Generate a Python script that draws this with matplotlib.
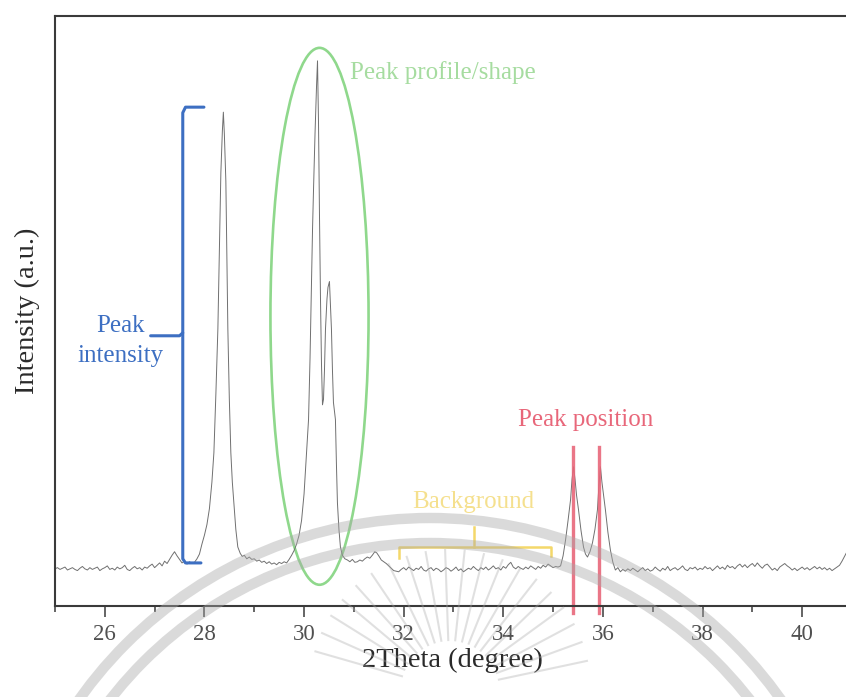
import numpy as np
import matplotlib.pyplot as plt
from matplotlib.patches import Ellipse, Arc
from matplotlib.ticker import MultipleLocator

plt.rcParams['font.family'] = ['Liberation Serif', 'DejaVu Serif']

step = 0.05

# flat background before the first peak (25.00 - 27.35)
bg_a_start = 25.0
bg_a = [6.3, 6.5, 6.2, 6.4, 6.6, 6.1, 6.3, 6.5, 6.2, 6.0,
        6.4, 6.7, 6.3, 6.1, 6.5, 6.2, 6.4, 6.6, 6.0, 6.3,
        6.5, 6.8, 6.2, 6.4, 6.1, 6.6, 6.3, 6.5, 6.9, 6.2,
        6.0, 6.4, 6.7, 6.3, 6.5, 6.1, 6.6, 6.4, 6.8, 7.1,
        6.5, 6.9, 7.3, 6.8, 7.6, 7.2, 7.9, 8.6]

# peaks at 28.4 and 30.3 / 30.5
peak_a_x = [27.40, 27.45, 27.50, 27.55, 27.60, 27.65, 27.70, 27.75, 27.80, 27.85,
            27.90, 27.95, 28.00, 28.05, 28.10, 28.15, 28.19, 28.23, 28.27, 28.30,
            28.33, 28.36, 28.38, 28.40, 28.43, 28.45, 28.47, 28.50, 28.53, 28.56,
            28.59, 28.63, 28.67, 28.72, 28.76, 28.80, 28.85, 28.90, 28.95, 29.00,
            29.05, 29.10, 29.15, 29.20, 29.25, 29.30, 29.35, 29.40, 29.45, 29.50,
            29.55, 29.60, 29.65, 29.70, 29.75, 29.80, 29.85, 29.90, 29.95, 30.00,
            30.03, 30.06, 30.09, 30.12, 30.15, 30.17, 30.19, 30.22, 30.25, 30.27,
            30.29, 30.31, 30.33, 30.35, 30.37, 30.39, 30.41, 30.43, 30.46, 30.48,
            30.51, 30.53, 30.55, 30.57, 30.59, 30.63, 30.65, 30.67, 30.70, 30.73,
            30.77, 30.82, 30.87, 30.92, 30.97, 31.02, 31.07, 31.12, 31.17, 31.22,
            31.27, 31.32, 31.37, 31.42, 31.46, 31.50, 31.55, 31.60, 31.65, 31.70,
            31.75, 31.80, 31.85]
peak_a_y = [9.2, 8.5, 7.9, 7.3, 7.6, 7.1, 7.5, 7.2, 7.4, 8.0,
            8.8, 10.5, 12.0, 13.8, 16.5, 21.0, 26.0, 36.0, 47.0, 60.0,
            73.5, 80.5, 83.7, 80.0, 72.0, 60.0, 47.0, 35.0, 26.0, 21.0,
            17.5, 13.0, 10.0, 8.9, 8.4, 8.6, 8.0, 8.3, 7.9, 8.0,
            7.6, 7.8, 7.4, 7.6, 7.2, 7.5, 7.1, 7.3, 7.0, 7.4,
            7.2, 7.5, 7.3, 7.9, 8.6, 9.4, 10.5, 12.0, 14.5, 19.0,
            23.1, 27.5, 31.6, 42.0, 55.0, 63.8, 70.6, 80.0, 88.0, 92.4,
            82.0, 66.0, 52.0, 41.0, 34.1, 35.0, 40.0, 46.9, 52.0, 54.0,
            55.0, 51.0, 46.9, 40.0, 34.5, 31.6, 24.0, 17.5, 13.0, 10.0,
            8.6, 8.0, 7.8, 7.5, 7.9, 7.4, 7.5, 7.8, 7.6, 8.0,
            8.3, 8.1, 8.6, 9.2, 9.0, 8.5, 7.8, 7.5, 7.2, 6.8,
            6.4, 6.0, 5.9]

# background between the peak groups (31.90 - 35.10)
bg_b_start = 31.90
bg_b = [5.8, 6.2, 6.5, 6.1, 6.6, 6.3, 6.0, 6.4, 6.2, 6.7,
        6.1, 5.9, 6.3, 6.5, 6.0, 6.4, 6.2, 5.8, 6.1, 6.5,
        6.3, 5.9, 6.2, 6.6, 6.0, 6.3, 5.8, 6.1, 6.4, 6.2,
        6.7, 6.3, 6.0, 6.5, 6.2, 6.6, 6.1, 6.4, 6.8, 6.3,
        6.5, 6.1, 6.7, 6.4, 7.0, 7.4, 6.6, 6.3, 6.7, 6.4,
        6.2, 6.6, 6.3, 6.8, 6.5, 6.2, 6.7, 6.4, 6.9, 6.6,
        7.1, 6.8, 6.5, 6.7, 6.6]

# doublet at 35.4 / 35.9
peak_b_x = [35.15, 35.20, 35.25, 35.30, 35.35, 35.38, 35.41, 35.44, 35.47, 35.51,
            35.56, 35.61, 35.65, 35.69, 35.74, 35.79, 35.84, 35.89, 35.92, 35.95,
            35.98, 36.01, 36.05, 36.10, 36.15, 36.20, 36.25, 36.30, 36.35]
peak_b_y = [6.8, 8.5, 11.2, 14.5, 18.0, 21.5, 23.6, 21.5, 18.8, 16.3,
            12.8, 10.0, 8.8, 8.3, 9.2, 10.7, 13.0, 16.3, 20.5, 23.6,
            21.0, 19.0, 16.3, 12.5, 9.5, 7.4, 6.1, 6.5, 5.8]

# background after the doublet (36.40 - 40.90)
bg_c_start = 36.40
bg_c = [6.2, 5.9, 6.3, 6.0, 6.4, 6.1, 5.8, 6.2, 6.5, 6.0,
        6.3, 5.9, 6.1, 6.6, 6.2, 5.9, 6.4, 6.1, 6.7, 6.0,
        6.3, 6.5, 6.1, 6.4, 6.8, 6.2, 6.0, 6.5, 6.3, 6.6,
        6.1, 6.4, 6.2, 6.7, 6.3, 6.5, 6.0, 6.4, 6.8, 6.3,
        6.6, 6.2, 6.9, 6.5, 6.7, 6.3, 6.8, 7.1, 6.6, 7.0,
        6.5, 6.9, 7.2, 6.7, 7.3, 6.8, 6.4, 6.9, 7.1, 6.6,
        6.1, 6.4, 6.0, 6.6, 6.9, 7.2, 6.8, 6.5, 6.1, 6.4,
        6.0, 6.3, 6.6, 6.2, 6.5, 6.1, 6.4, 6.7, 6.3, 6.6,
        6.2, 6.5, 6.1, 6.4, 6.0, 6.3, 6.6, 6.9, 7.6, 8.4,
        9.2]

# annotated peak positions
peak_positions = [35.39, 35.92]

x_ticks = [26, 28, 30, 32, 34, 36, 38, 40]


def bg_x(start, vals):
    return start + step * np.arange(len(vals))


two_theta = np.concatenate([bg_x(bg_a_start, bg_a), peak_a_x,
                            bg_x(bg_b_start, bg_b), peak_b_x,
                            bg_x(bg_c_start, bg_c)])
intensity = np.concatenate([bg_a, peak_a_y, bg_b, peak_b_y, bg_c])

W, H = 846, 697
fig = plt.figure(figsize=(W / 100, H / 100), dpi=100)
ax = fig.add_axes([55 / W, 91 / H, 1 - 55 / W, 590 / H])

ax.plot(two_theta, intensity, color='#707070', lw=0.7)
ax.set_xlim(25, 40.88)
ax.set_ylim(0, 100)

for side in ['top', 'left', 'bottom']:
    ax.spines[side].set_color('#3a3a3a')
    ax.spines[side].set_linewidth(1.5)
ax.spines['right'].set_visible(False)

ax.set_yticks([])
ax.set_xticks(x_ticks)
ax.xaxis.set_minor_locator(MultipleLocator(1))
ax.tick_params(axis='x', which='major', direction='out', length=8, width=1.1,
               color='#3a3a3a', labelsize=16.5, labelcolor='#505050', pad=5)
ax.tick_params(axis='x', which='minor', direction='out', length=4, width=1.1,
               color='#3a3a3a')

fig.text(27 / W, 1 - 311 / H, 'Intensity (a.u.)', rotation=90, ha='center',
         va='center', fontsize=20.5, color='#2a2a2a')
fig.text(452 / W, 1 - 660 / H, '2Theta (degree)', ha='center', va='center',
         fontsize=20.5, color='#2a2a2a')

# peak intensity brace
blue = '#3d6fc2'
ax.plot([27.99, 27.62, 27.565, 27.565, 27.62, 27.93],
        [84.55, 84.55, 83.6, 8.0, 7.3, 7.3], color=blue, lw=2.2,
        solid_joinstyle='round', solid_capstyle='round')
ax.plot([27.565, 27.50, 26.92], [46.3, 45.8, 45.8], color=blue, lw=2.2,
        solid_capstyle='round')
ax.text(26.32, 44.9, 'Peak\nintensity', color=blue, fontsize=18,
        ha='center', va='center', linespacing=1.45)

# peak profile ellipse
green = '#8fd88c'
ax.add_patch(Ellipse((30.31, 49.1), 1.97, 91.0, fill=False, ec=green, lw=1.9))
ax.text(30.93, 90.5, 'Peak profile/shape', color='#a6dca0', fontsize=18,
        ha='left', va='center')

# background bracket
yellow = '#f4d86a'
ax.plot([31.90, 31.90, 34.95, 34.95], [8.1, 10.0, 10.0, 8.4], color=yellow,
        lw=1.8)
ax.plot([33.42, 33.42], [10.0, 13.4], color=yellow, lw=1.8)
ax.text(33.40, 17.6, 'Background', color='#f5e08e', fontsize=18,
        ha='center', va='center')

# peak position markers
red = '#e8677a'
for p in peak_positions:
    ax.plot([p, p], [-1.2, 27.0], color=red, lw=2.4, alpha=0.9, clip_on=False)
ax.text(35.66, 31.5, 'Peak position', color=red, fontsize=18,
        ha='center', va='center')

# faint seal in the background of the page
ov = fig.add_axes([0, 0, 1, 1], zorder=5)
ov.set_xlim(0, W)
ov.set_ylim(H, 0)
ov.axis('off')
ov.patch.set_alpha(0)
for r in [430, 405]:
    ov.add_patch(Arc((430, 948), 2 * r, 2 * r, theta1=180, theta2=360,
                     color='#a8a8a8', alpha=0.42, lw=7.5))
cx, cy = 450, 690
for ang in [12, 20, 28, 36, 44, 52, 60, 68, 76, 84, 92, 100, 108, 116, 124,
            132, 140, 148, 156, 164]:
    t = np.radians(ang)
    ov.plot([cx + 50 * np.cos(t), cx + 140 * np.cos(t)],
            [cy - 50 * np.sin(t), cy - 140 * np.sin(t)],
            color='#a8a8a8', alpha=0.35, lw=1.5)

fig.savefig('out.png', dpi=100)
